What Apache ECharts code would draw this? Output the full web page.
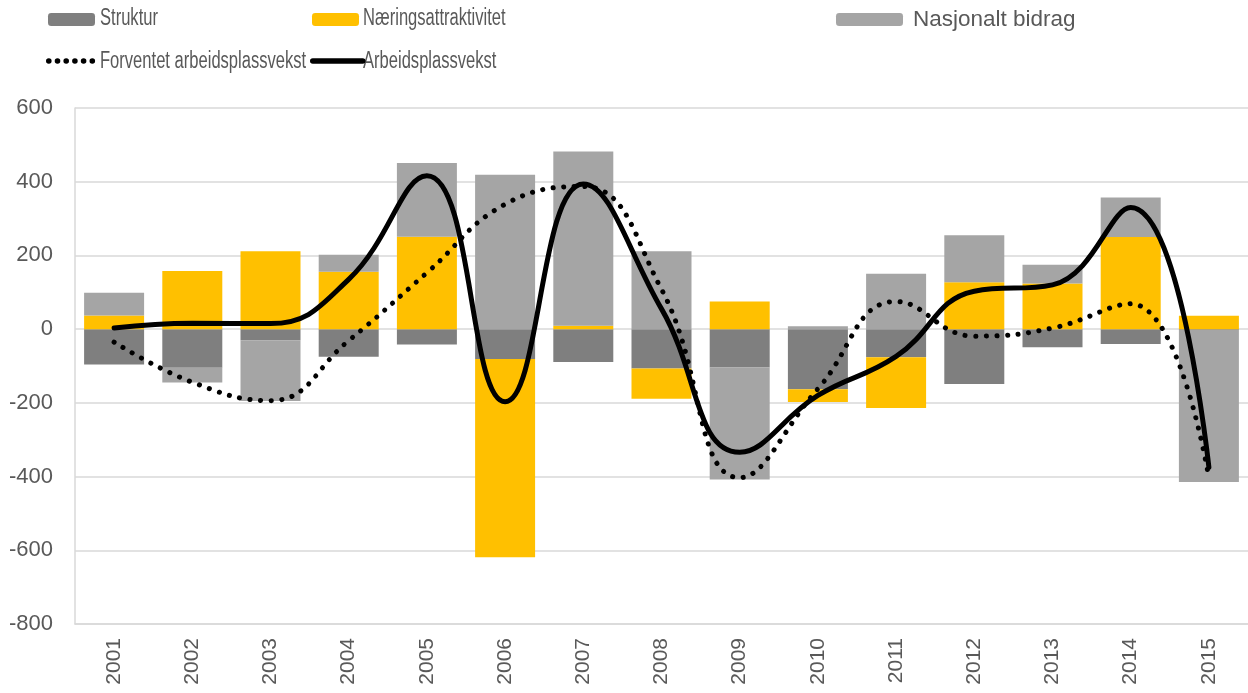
<!DOCTYPE html>
<html>
<head>
<meta charset="utf-8">
<script src="https://cdn.jsdelivr.net/npm/echarts@6/dist/echarts.min.js"></script>
<style>
  html, body { margin: 0; padding: 0; background: #fff; }
  #main { width: 1248px; height: 693px; }
</style>
</head>
<body>
<div id="main"></div>
<script>
var years = ['2001', '2002', '2003', '2004', '2005', '2006', '2007', '2008', '2009', '2010', '2011', '2012', '2013', '2014', '2015'];
var struktur = [-96, -105, -30, -75, -42, -81, -89, -107, -104, -163, -76, -149, -49, -40, -2];
var naering = [37, 158, 211, 156, 251, -538, 9, -82, 75, -35, -138, 127, 124, 250, 36];
var nasjonalt = [62, -40, -165, 46, 200, 419, 473, 211, -304, 8, 150, 128, 51, 107, -413];
var forventet = [-35, -144, -194, -31, 153, 339, 387, 108, -403, -162, 75, -19, 3, 69, -404];
var arbeid = [3, 16, 15, 135, 416, -197, 394, 55, -334, -180, -74, 103, 120, 330, -375];

var font = "'Liberation Sans', Arial, sans-serif";
var textCol = '#595959';

var chart = echarts.init(document.getElementById('main'));

// legend in Excel squeezes most labels, so those are drawn as scaled text next to the icons
function leg(name, left, top, w, h, showText) {
    return {
        data: [name],
        left: left,
        top: top,
        itemWidth: w,
        itemHeight: h,
        itemGap: 0,
        padding: 0,
        selectedMode: false,
        formatter: showText ? '{name}' : function () { return ' '; },
        textStyle: { color: textCol, fontSize: 22.5, fontFamily: font, padding: [0, 0, 0, 5] }
    };
}

function legText(txt, x, y) {
    return {
        type: 'text',
        x: x,
        y: y,
        scaleX: 0.72,
        style: {
            text: txt,
            fill: textCol,
            font: '23px ' + font,
            verticalAlign: 'middle'
        }
    };
}

var option = {
    animation: false,
    backgroundColor: '#fff',
    legend: [
        leg('Struktur', 48, 8, 47, 13, false),
        leg('Næringsattraktivitet', 312, 8, 47, 13, false),
        leg('Nasjonalt bidrag', 836, 8, 67, 13, true),
        {
            data: ['Forventet arbeidsplassvekst'],
            left: 46, top: 50, itemWidth: 48, itemHeight: 24, padding: 0, selectedMode: false,
            itemStyle: { opacity: 0 },
            lineStyle: { width: 5.5, type: [0.1, 8.6], cap: 'round', color: '#000' },
            formatter: function () { return ' '; },
            textStyle: { fontSize: 22 }
        },
        {
            data: ['Arbeidsplassvekst'],
            left: 310, top: 50, itemWidth: 50, itemHeight: 24, padding: 0, selectedMode: false,
            itemStyle: { opacity: 0 },
            lineStyle: { width: 5.5, cap: 'round', color: '#000' },
            formatter: function () { return ' '; },
            textStyle: { fontSize: 22 }
        }
    ],
    graphic: [
        legText('Struktur', 100, 19),
        legText('Næringsattraktivitet', 363, 19),
        legText('Forventet arbeidsplassvekst', 100, 62),
        legText('Arbeidsplassvekst', 363, 62)
    ],
    grid: {
        left: 75,
        right: -4.5,
        top: 108,
        bottom: 69
    },
    xAxis: {
        type: 'category',
        data: years,
        axisLine: { onZero: false, lineStyle: { color: '#d9d9d9', width: 1.5 } },
        axisTick: { show: false },
        axisLabel: {
            rotate: 90,
            color: textCol,
            fontSize: 21,
            fontFamily: font,
            margin: 14
        }
    },
    yAxis: {
        type: 'value',
        min: -800,
        max: 600,
        interval: 200,
        axisLine: { show: true, lineStyle: { color: '#d9d9d9', width: 1.5 } },
        axisTick: { show: false },
        splitLine: { lineStyle: { color: '#d9d9d9', width: 1.5 } },
        axisLabel: {
            color: textCol,
            fontSize: 22,
            fontFamily: font,
            margin: 22
        }
    },
    series: [
        {
            name: 'Struktur',
            type: 'bar',
            stack: 'tot',
            barWidth: 60,
            itemStyle: { color: '#7f7f7f' },
            data: struktur
        },
        {
            name: 'Næringsattraktivitet',
            type: 'bar',
            stack: 'tot',
            barWidth: 60,
            itemStyle: { color: '#ffc000' },
            data: naering
        },
        {
            name: 'Nasjonalt bidrag',
            type: 'bar',
            stack: 'tot',
            barWidth: 60,
            itemStyle: { color: '#a5a5a5' },
            data: nasjonalt
        },
        {
            name: 'Forventet arbeidsplassvekst',
            type: 'line',
            smooth: 0.45,
            symbol: 'none',
            lineStyle: { color: '#000', width: 5, type: [0.1, 10.5], cap: 'round' },
            itemStyle: { color: '#000' },
            data: forventet
        },
        {
            name: 'Arbeidsplassvekst',
            type: 'line',
            smooth: 0.45,
            symbol: 'none',
            lineStyle: { color: '#000', width: 5, cap: 'round' },
            itemStyle: { color: '#000' },
            data: arbeid
        }
    ]
};
chart.setOption(option);
</script>
</body>
</html>
